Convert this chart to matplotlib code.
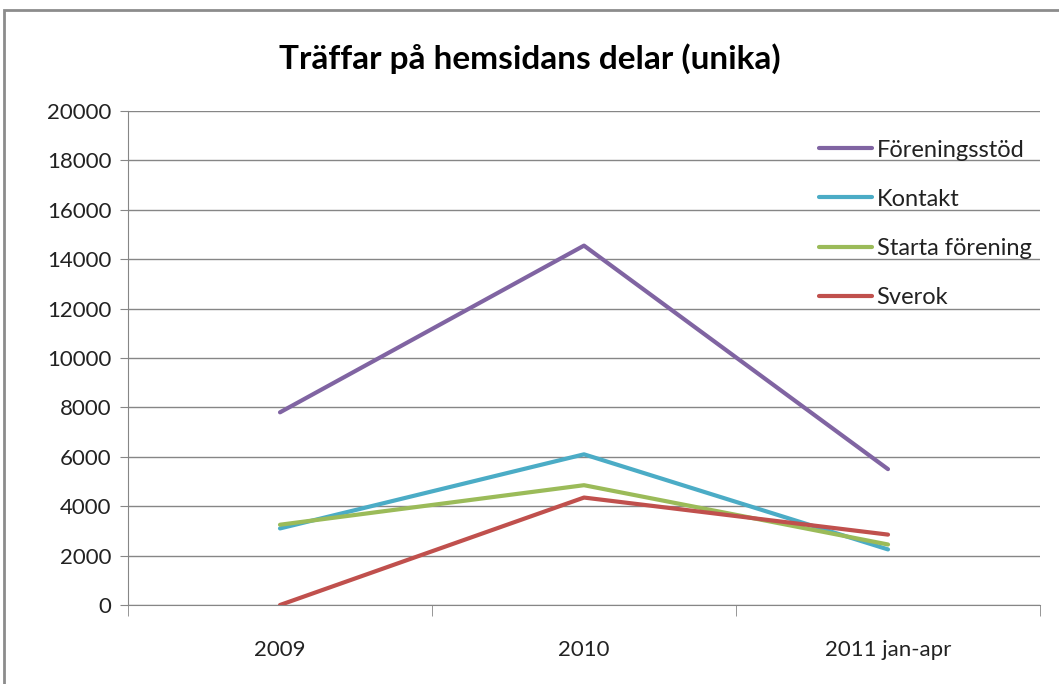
import matplotlib
matplotlib.use("Agg")
import matplotlib.pyplot as plt
from matplotlib.patches import Rectangle

categories = ["2009", "2010", "2011 jan-apr"]
foreningsstod = [7800, 14550, 5500]
kontakt = [3100, 6100, 2250]
starta_forening = [3250, 4850, 2450]
sverok = [0, 4350, 2850]
series_names = ["Föreningsstöd", "Kontakt", "Starta förening", "Sverok"]
colors = ["#8064A2", "#4BACC6", "#9BBB59", "#C0504D"]
yticks = [0, 2000, 4000, 6000, 8000, 10000, 12000, 14000, 16000, 18000, 20000]

plt.rcParams['font.family'] = ['Lato', 'DejaVu Sans']

fig = plt.figure(figsize=(10.59, 6.84), dpi=100)
fig.patch.set_facecolor("white")
# outer chart border
fig.add_artist(Rectangle((4/1059, -0.05), 1.2, 1 - 10/684 + 0.05, transform=fig.transFigure,
                         fill=False, edgecolor="#8c8c8c", linewidth=2))

ax = fig.add_axes([128/1059, 1 - 605/684, (1040 - 128)/1059, (605 - 111)/684])
x = list(range(len(categories)))
for vals, name, c in zip([foreningsstod, kontakt, starta_forening, sverok], series_names, colors):
    ax.plot(x, vals, color=c, linewidth=3, label=name, solid_capstyle="round", zorder=3)

ax.set_xlim(-0.5, len(categories) - 0.5)
ax.set_ylim(0, 20000)
ax.set_yticks(yticks)
ax.set_yticklabels([str(v) for v in yticks], fontsize=16, color="#222222")
ax.set_xticks(x)
ax.set_xticklabels(categories, fontsize=16, color="#222222")
ax.tick_params(axis='x', length=0, pad=25)
ax.set_xticks([-0.5, 0.5, 1.5, 2.5], minor=True)
ax.tick_params(axis='x', which='minor', length=8, color="#868686", direction='out')
ax.tick_params(axis='y', length=6, color="#868686", direction='out', pad=6)
ax.grid(axis='y', color="#868686", linewidth=1, zorder=0)
ax.set_axisbelow(True)
for s in ["top", "right"]:
    ax.spines[s].set_visible(False)
ax.spines["left"].set_color("#868686")
ax.spines["bottom"].set_color("#868686")

leg = ax.legend(loc="upper left", bbox_to_anchor=(0.734, 0.985), frameon=False,
                fontsize=17, handlelength=2.25, handletextpad=0.2, labelspacing=1.19)
for t in leg.get_texts():
    t.set_color("#222222")

fig.text(0.5, 1 - 59/684, "Träffar på hemsidans delar (unika)", ha="center", va="center",
         fontsize=24, fontweight="bold", color="black")

fig.savefig("out.png", dpi=100)
